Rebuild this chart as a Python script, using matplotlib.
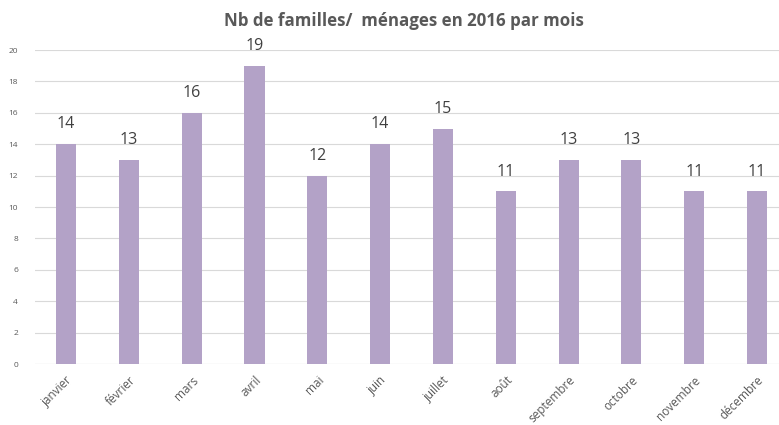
import matplotlib
matplotlib.use("Agg")
import matplotlib.pyplot as plt

months = ["janvier", "février", "mars", "avril", "mai", "juin", "juillet",
          "août", "septembre", "octobre", "novembre", "décembre"]
counts = [14, 13, 16, 19, 12, 14, 15, 11, 13, 13, 11, 11]
yticks = list(range(0, 21, 2))

plt.rcParams['font.family'] = ['Open Sans', 'DejaVu Sans']

fig = plt.figure(figsize=(7.79, 4.25), dpi=100)
ax = fig.add_axes([0.0444, 0.1435, 0.9556, 0.7388])

x = range(len(months))
bars = ax.bar(x, counts, width=0.32, color='#B3A2C7', zorder=3)
for xi, v in zip(x, counts):
    ax.text(xi, v + 0.75, str(v), ha='center', va='bottom', fontsize=11.5, color='#404040')

ax.set_xlim(-0.5, 11.35)
ax.set_ylim(0, 20)
ax.set_yticks(yticks)
ax.set_yticklabels([str(t) for t in yticks], fontsize=6, color='#595959')
ax.set_xticks(list(x))
ax.set_xticklabels(months, rotation=45, ha='right', rotation_mode='anchor',
                   fontsize=8.5, color='#595959')
ax.tick_params(axis='y', length=0, pad=12)
ax.tick_params(axis='x', length=0, pad=7)
ax.grid(axis='y', color='#D9D9D9', linewidth=0.8, zorder=0)
for s in ax.spines.values():
    s.set_visible(False)
ax.axhline(0, color='#D9D9D9', linewidth=0.8, zorder=1)

fig.text(0.518, 0.95, "Nb de familles/  ménages en 2016 par mois", ha='center', va='center',
         fontsize=12.2, fontweight='bold', color='#595959')

fig.savefig("out.png", dpi=100)
